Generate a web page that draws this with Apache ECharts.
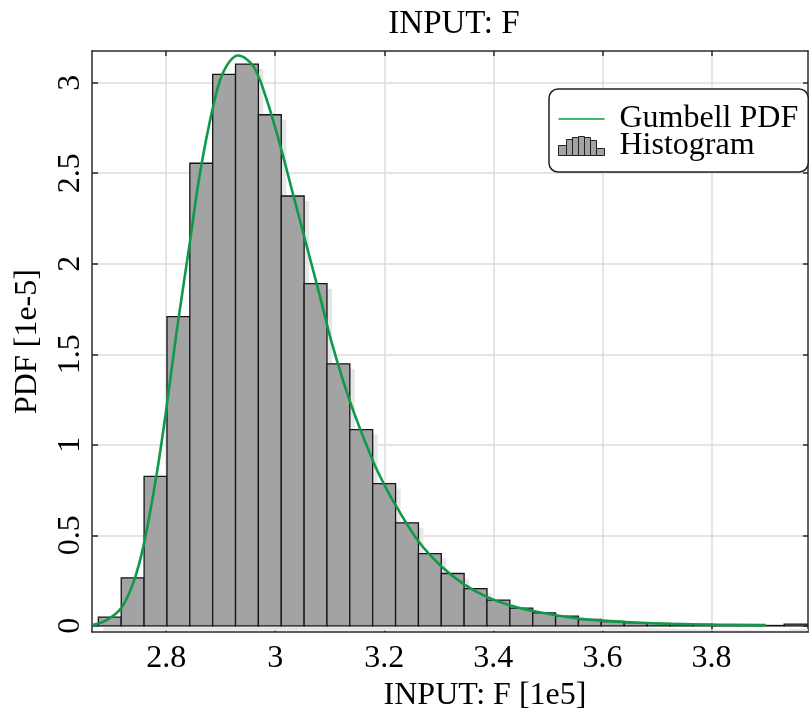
<!DOCTYPE html>
<html>
<head>
<meta charset="utf-8">
<script src="https://cdn.jsdelivr.net/npm/echarts@6/dist/echarts.min.js"></script>
<style>
html,body{margin:0;padding:0;background:#fff;}
#chart{width:810px;height:722px;}
</style>
</head>
<body>
<div id="chart"></div>
<script>
// ---- data (x in 1e5, PDF in 1e-5) ----
const binEdges = [2.6757, 2.7176, 2.7595, 2.8015, 2.8434, 2.8853, 2.9272, 2.9691, 3.0111, 3.0530,
  3.0949, 3.1368, 3.1787, 3.2207, 3.2626, 3.3045, 3.3464, 3.3883, 3.4303, 3.4722,
  3.5141, 3.5560, 3.5979, 3.6399, 3.6818, 3.7237, 3.7656, 3.8075, 3.8495, 3.8914,
  3.9333, 3.9752];
const histHeights = [0.048, 0.265, 0.826, 1.708, 2.555, 3.046, 3.103, 2.823, 2.374, 1.890,
  1.447, 1.084, 0.786, 0.569, 0.399, 0.289, 0.206, 0.142, 0.098, 0.072,
  0.054, 0.035, 0.024, 0.018, 0.014, 0.010, 0.008, 0.006, 0.004, 0.002, 0.010];
const pdfX = [2.664, 2.690, 2.718, 2.740, 2.759, 2.783, 2.802, 2.819, 2.844, 2.862, 2.887, 2.905, 2.932,
  2.960, 2.984, 3.009, 3.033, 3.058, 3.082, 3.104, 3.137, 3.179, 3.200, 3.221, 3.263, 3.305,
  3.347, 3.388, 3.430, 3.473, 3.514, 3.556, 3.600, 3.681, 3.800, 3.900];
const pdfY = [0.004, 0.030, 0.100, 0.240, 0.450, 0.845, 1.235, 1.620, 2.130, 2.500, 2.880, 3.060, 3.150,
  3.090, 2.910, 2.655, 2.380, 2.095, 1.820, 1.560, 1.240, 0.912, 0.780, 0.665, 0.466, 0.328,
  0.228, 0.160, 0.114, 0.082, 0.059, 0.041, 0.029, 0.016, 0.007, 0.004];
const xTicks = [2.8, 3.0, 3.2, 3.4, 3.6, 3.8];
const yTicks = [0, 0.5, 1, 1.5, 2, 2.5, 3];
const titleText = 'INPUT: F';
const xName = 'INPUT: F [1e5]';
const yName = 'PDF [1e-5]';
const seriesNames = ['Gumbell PDF', 'Histogram'];

// ---- build ----
const histData = histHeights.map((h, i) => [binEdges[i], binEdges[i + 1], h]);
const lineData = pdfX.map((x, i) => [x, pdfY[i]]);

const FONT = '"Liberation Serif", "Times New Roman", serif';
const X_MIN = 2.664, X_MAX = 3.977, Y_MIN = -0.034, Y_MAX = 3.175;
const axisColor = '#2a2a2a';
const green = '#0e9a48';

const chart = echarts.init(document.getElementById('chart'), null, {renderer: 'canvas'});

function baseAxis(extra) {
  return Object.assign({
    type: 'value',
    axisLine: {show: true, onZero: false, lineStyle: {color: axisColor, width: 1.5}},
    axisTick: {show: true, inside: true, length: 6, lineStyle: {color: axisColor, width: 1.5}},
    splitLine: {show: false},
    axisLabel: {show: false}
  }, extra);
}

const option = {
  backgroundColor: '#fff',
  animation: false,
  title: {
    text: titleText, left: 449, top: 3, textAlign: 'center',
    textStyle: {fontFamily: FONT, fontSize: 33, fontWeight: 'normal', color: '#000'}
  },
  grid: {left: 92, right: 2, top: 51, bottom: 90, containLabel: false},
  xAxis: [
    baseAxis({
      position: 'bottom', min: X_MIN, max: X_MAX,
      name: xName, nameLocation: 'middle', nameGap: 42,
      nameTextStyle: {fontFamily: FONT, fontSize: 32, color: '#000', padding: [0, 0, 0, 70]},
      axisTick: {show: true, inside: true, length: 6, customValues: xTicks, lineStyle: {color: axisColor, width: 1.5}},
      axisLabel: {show: true, customValues: xTicks, margin: 11, fontFamily: FONT, fontSize: 32, color: '#000'},
      splitLine: {show: true, lineStyle: {color: '#dcdcdc', width: 1.5}}
    }),
    baseAxis({
      position: 'top', min: X_MIN, max: X_MAX,
      axisTick: {show: true, inside: true, length: 5, customValues: xTicks, lineStyle: {color: axisColor, width: 1.5}}
    })
  ],
  yAxis: [
    baseAxis({
      position: 'left', min: Y_MIN, max: Y_MAX,
      name: yName, nameLocation: 'middle', nameGap: 48, nameRotate: 90,
      nameTextStyle: {fontFamily: FONT, fontSize: 32, color: '#000'},
      axisTick: {show: true, inside: true, length: 6, customValues: yTicks, lineStyle: {color: axisColor, width: 1.5}},
      axisLabel: {show: true, customValues: yTicks, rotate: 90, margin: 5, fontFamily: FONT, fontSize: 32, color: '#000'},
      splitLine: {show: true, lineStyle: {color: '#dcdcdc', width: 1.5}}
    }),
    baseAxis({
      position: 'right', min: Y_MIN, max: Y_MAX,
      axisTick: {show: true, inside: true, length: 5, customValues: yTicks, lineStyle: {color: axisColor, width: 1.5}}
    })
  ],
  legend: {
    orient: 'vertical', left: 549, top: 89,
    padding: [14, 10, 10, 9], itemGap: -5, itemWidth: 46, itemHeight: 19,
    backgroundColor: '#fff', borderColor: '#222', borderWidth: 1.5, borderRadius: 9,
    textStyle: {fontFamily: FONT, fontSize: 32, color: '#000', lineHeight: 26, padding: [0, 0, 0, 10]},
    data: [
      {name: seriesNames[0], icon: 'path://M0,0H44V1.6H0Z', itemStyle: {color: green, borderWidth: 0}},
      {name: seriesNames[1],
       icon: 'path://M0,19V9H8V19Z M8,19V3H14V19Z M14,19V1H20V19Z M20,19V0H26V19Z M26,19V1H32V19Z M32,19V4H38V19Z M38,19V12H46V19Z',
       itemStyle: {color: '#a3a3a3', borderColor: '#222', borderWidth: 1}}
    ]
  },
  series: [
    {
      name: seriesNames[1], type: 'custom', xAxisIndex: 0, yAxisIndex: 0,
      clip: true, z: 2,
      itemStyle: {color: '#a3a3a3', borderColor: '#222', borderWidth: 1},
      data: histData,
      encode: {x: [0, 1], y: 2},
      renderItem: function (params, api) {
        const p0 = api.coord([api.value(0), api.value(2)]);
        const p1 = api.coord([api.value(1), 0]);
        const w = p1[0] - p0[0], h = p1[1] - p0[1];
        return {
          type: 'group',
          children: [
            {type: 'rect', shape: {x: p0[0] + 5, y: p0[1] + 5, width: w, height: h},
             style: {fill: '#e6e6e6'}},
            {type: 'rect', shape: {x: p0[0], y: p0[1], width: w, height: h},
             style: {fill: '#a3a3a3', stroke: '#151515', lineWidth: 1.3}}
          ]
        };
      }
    },
    {
      name: seriesNames[0], type: 'line', xAxisIndex: 0, yAxisIndex: 0,
      data: lineData, smooth: 0.35, symbol: 'none', clip: true, z: 3,
      itemStyle: {color: green},
      lineStyle: {color: green, width: 2.6}
    }
  ]
};
chart.setOption(option);
</script>
</body>
</html>
